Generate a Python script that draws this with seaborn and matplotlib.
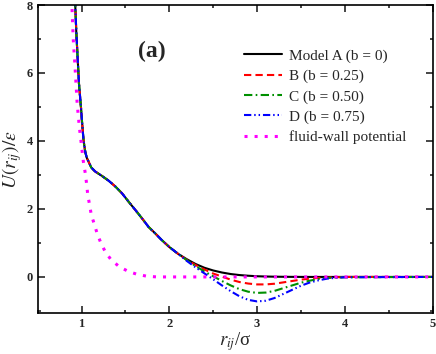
import matplotlib
matplotlib.use("Agg")
import matplotlib.pyplot as plt
import seaborn as sns
import numpy as np
from matplotlib.ticker import MultipleLocator

# shared repulsive part (all four models coincide here)
r_core = [0.915, 0.928, 0.94, 0.954, 0.97, 0.993, 1.004, 1.022, 1.042, 1.06, 1.08,
          1.11, 1.156, 1.233, 1.309, 1.385, 1.461, 1.537, 1.613, 1.69, 1.764, 1.84,
          1.916, 2.0, 2.1]
u_core = [9.0, 8.0, 7.2, 6.5, 5.7, 5.0, 4.61, 4.03, 3.68, 3.5, 3.39,
          3.22, 3.10, 2.97, 2.83, 2.66, 2.46, 2.21, 1.97, 1.72, 1.47, 1.28,
          1.08, 0.88, 0.68]

# tails, where the attractive well differs
r_tail = [2.2, 2.3, 2.4, 2.5, 2.6, 2.7, 2.8, 2.9, 3.0, 3.1, 3.2, 3.3, 3.4, 3.5,
          3.6, 3.7, 3.8, 3.9, 4.0, 5.0]
u_A = [0.52, 0.38, 0.27, 0.19, 0.13, 0.085, 0.055, 0.035, 0.02, 0.012, 0.007,
       0.004, 0.002, 0.001, 0.0, 0.0, 0.0, 0.0, 0.0, 0.0]
u_B = [0.50, 0.35, 0.22, 0.10, 0.01, -0.08, -0.15, -0.195, -0.22, -0.22, -0.20,
       -0.16, -0.12, -0.08, -0.05, -0.03, -0.02, -0.01, 0.0, 0.0]
u_C = [0.49, 0.32, 0.16, 0.02, -0.12, -0.25, -0.36, -0.435, -0.47, -0.46, -0.41,
       -0.33, -0.25, -0.17, -0.11, -0.06, -0.03, -0.02, -0.01, 0.0]
u_D = [0.47, 0.28, 0.105, -0.07, -0.25, -0.42, -0.57, -0.675, -0.72, -0.70, -0.62,
       -0.50, -0.38, -0.26, -0.165, -0.10, -0.05, -0.025, -0.01, 0.0]

# fluid-wall potential
r_fw = [0.875, 0.89, 0.905, 0.925, 0.95, 0.975, 1.0, 1.02, 1.043, 1.058, 1.07,
        1.09, 1.11, 1.145, 1.18, 1.22, 1.27, 1.335, 1.43, 1.535, 1.63, 1.745,
        1.86, 5.0]
u_fw = [9.0, 8.0, 7.0, 6.2, 5.1, 4.4, 3.85, 3.4, 3.04, 2.73, 2.43,
        2.14, 1.84, 1.55, 1.26, 1.0, 0.74, 0.51, 0.30, 0.16, 0.08, 0.02,
        0.0, 0.0]

labels = ["Model A (b = 0)", "B (b = 0.25)", "C (b = 0.50)", "D (b = 0.75)",
          "fluid-wall potential"]

sns.set_theme(style="ticks")
plt.rcParams["font.family"] = ["Liberation Serif", "DejaVu Serif"]
plt.rcParams["mathtext.fontset"] = "stix"

fig = plt.figure(figsize=(4.36, 3.54), dpi=100)
ax = fig.add_axes([37.7 / 436, 1 - 313.3 / 354, (432.5 - 37.7) / 436, (313.3 - 5.0) / 354])

models = [
    (u_A, "black", "-", labels[0]),
    (u_B, "#ff0000", (0, (3.5, 2.0)), labels[1]),
    (u_C, "#009000", (0, (4.0, 1.6, 0.8, 1.6)), labels[2]),
    (u_D, "#0000ff", (0, (3.5, 1.4, 0.7, 1.4, 0.7, 1.4)), labels[3]),
]
for u_t, col, ls, lab in models:
    sns.lineplot(x=r_core + r_tail, y=u_core + u_t, ax=ax, color=col,
                 linestyle=ls, linewidth=1.5, label=lab, sort=False)

sns.lineplot(x=r_fw, y=u_fw, ax=ax, color="#ff00ff", linestyle=(0, (1.0, 2.3)),
             linewidth=2.2, label=labels[4], sort=False)

ax.set_xlim(0.5, 5)
ax.set_ylim(-1.07, 8)
ax.xaxis.set_major_locator(MultipleLocator(1))
ax.xaxis.set_minor_locator(MultipleLocator(0.5))
ax.yaxis.set_major_locator(MultipleLocator(2))
ax.yaxis.set_minor_locator(MultipleLocator(1))
ax.tick_params(which="both", direction="in", top=True, right=True, width=1.2)
ax.tick_params(which="major", length=4.8, labelsize=9, pad=3.5)
ax.tick_params(which="minor", length=2.2)
for lab in ax.get_xticklabels() + ax.get_yticklabels():
    lab.set_fontweight("bold")
for sp in ax.spines.values():
    sp.set_linewidth(1.2)
    sp.set_color("black")

ax.set_xlabel(r"$r_{ij}$/σ", fontsize=13.5, labelpad=0)
ax.set_ylabel(r"$U(r_{ij})/\varepsilon$", fontsize=14, labelpad=2)

ax.text(0.29, 0.85, "(a)", transform=ax.transAxes, fontsize=17,
        fontweight="bold", ha="center", va="center")

ax.legend(loc="upper left", bbox_to_anchor=(0.522, 0.857), frameon=False,
          fontsize=11, handlelength=2.5, handletextpad=0.45, labelspacing=0.42,
          borderpad=0, borderaxespad=0)

fig.savefig("out.png", dpi=100)
